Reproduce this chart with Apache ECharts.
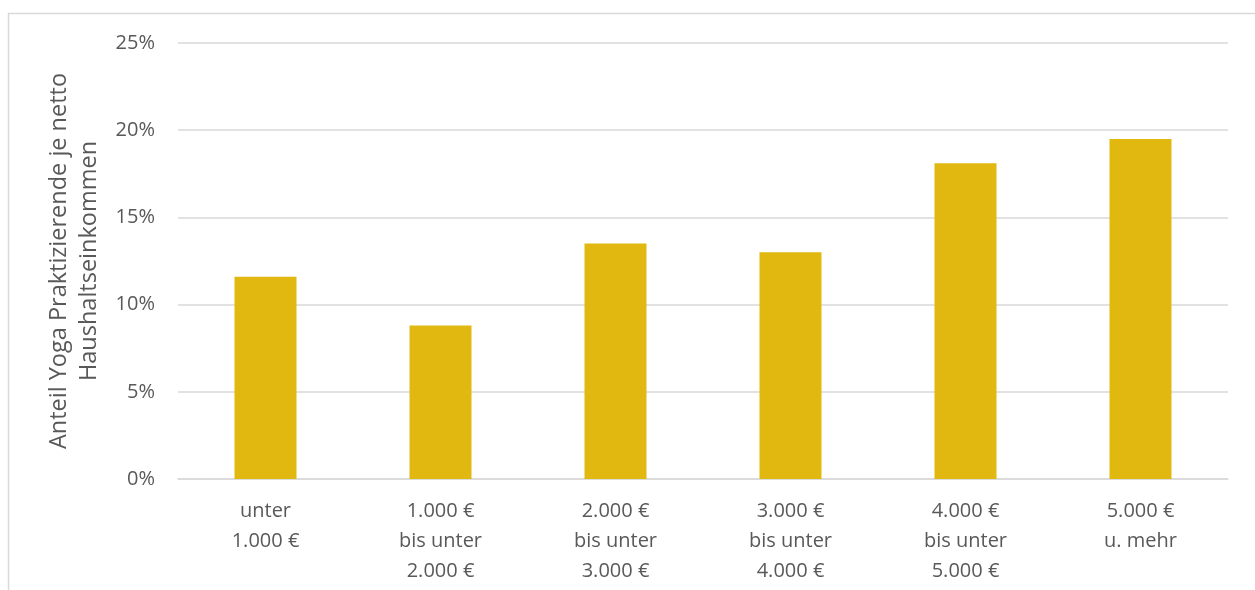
<!DOCTYPE html>
<html><head><meta charset="utf-8">
<script src="https://cdn.jsdelivr.net/npm/echarts@6/dist/echarts.min.js"></script>
<style>html,body{margin:0;padding:0;background:#fff}#c{width:1255px;height:590px}</style>
</head><body><div id="c"></div>
<script>
const categories = ["unter\n1.000 €", "1.000 €\nbis unter\n2.000 €", "2.000 €\nbis unter\n3.000 €", "3.000 €\nbis unter\n4.000 €", "4.000 €\nbis unter\n5.000 €", "5.000 €\nu. mehr"];
const values = [11.6, 8.8, 13.5, 13.0, 18.1, 19.5];
const axisTitle = "Anteil Yoga Praktizierende je netto\nHaushaltseinkommen";
const yTicks = [0, 5, 10, 15, 20, 25];

const font = "'Open Sans', sans-serif";
const chart = echarts.init(document.getElementById('c'), null, {renderer: 'canvas'});
chart.setOption({
  animation: false,
  backgroundColor: '#fff',
  graphic: [{
    type: 'rect', shape: {x: 8.5, y: 13.5, width: 1300, height: 700},
    style: {fill: 'none', stroke: '#d9d9d9', lineWidth: 1.5}, silent: true, z: -1
  }],
  grid: {left: 178, right: 27, top: 43, bottom: 111, containLabel: false},
  xAxis: {
    type: 'category', data: categories,
    axisLine: {lineStyle: {color: '#d9d9d9', width: 1.5}},
    axisTick: {show: false},
    axisLabel: {color: '#595959', fontFamily: font, fontSize: 20, lineHeight: 30, margin: 17, interval: 0}
  },
  yAxis: {
    type: 'value', min: 0, max: 25, interval: 5,
    name: axisTitle, nameLocation: 'middle', nameGap: 69, nameRotate: 90,
    nameTextStyle: {color: '#595959', fontFamily: font, fontSize: 23.5, lineHeight: 30, align: 'center'},
    axisLine: {show: false}, axisTick: {show: false},
    splitLine: {lineStyle: {color: '#d9d9d9', width: 1.5}},
    axisLabel: {color: '#595959', fontFamily: font, fontSize: 20, margin: 23,
      formatter: v => yTicks.includes(v) ? v + '%' : ''}
  },
  series: [{
    type: 'bar', data: values, barWidth: 62,
    itemStyle: {color: '#E1B80F'}
  }]
});
</script></body></html>
